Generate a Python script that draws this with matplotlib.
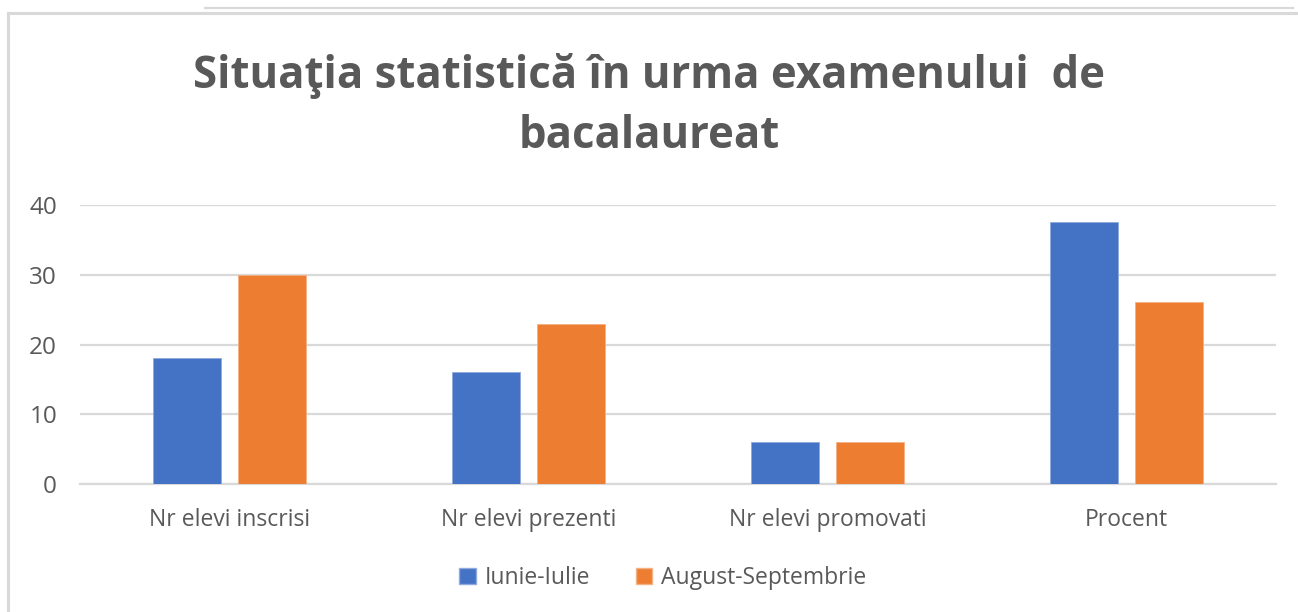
import numpy as np
import matplotlib
matplotlib.use("Agg")
import matplotlib.pyplot as plt
from matplotlib.lines import Line2D
from matplotlib.patches import Patch

# Data
categories = ["Nr elevi inscrisi", "Nr elevi prezenti", "Nr elevi promovati", "Procent"]
iunie_iulie = [18, 16, 6, 37.5]
august_septembrie = [30, 23, 6, 26.1]
series_names = ["Iunie-Iulie", "August-Septembrie"]
yticks = [0, 10, 20, 30, 40]

BLUE = "#4472c4"
ORANGE = "#ed7d31"
TEXT = "#595959"
GRID = "#d9d9d9"

plt.rcParams["font.family"] = ["Open Sans", "DejaVu Sans"]

W, H = 1298, 612
fig = plt.figure(figsize=(W / 100, H / 100), dpi=100)
ax = fig.add_axes([80 / W, 1 - 484 / H, 1196 / W, (484 - 205) / H])

x = np.arange(len(categories))
bw = 0.227
ax.bar(x - 0.143, iunie_iulie, bw, color=BLUE, edgecolor="#8faadc", linewidth=0.6, zorder=3)
ax.bar(x + 0.143, august_septembrie, bw, color=ORANGE, edgecolor="#f4b183", linewidth=0.6, zorder=3)

ax.set_xlim(-0.5, len(categories) - 0.5)
ax.set_ylim(0, 40)
ax.set_yticks(yticks)
ax.set_xticks(x)
ax.set_xticklabels(categories)
ax.yaxis.grid(True, color=GRID, linewidth=1.6, zorder=0)
ax.set_axisbelow(True)
for s in ax.spines.values():
    s.set_visible(False)
ax.tick_params(axis="both", length=0, colors=TEXT)
ax.tick_params(axis="y", pad=16.5, labelsize=17.5)
ax.tick_params(axis="x", pad=17, labelsize=16.5)
ax.axhline(0, color=GRID, linewidth=1.6, zorder=1, clip_on=False)

fig.text(0.5, 1 - 106 / H, "Situaţia statistică în urma examenului  de\nbacalaureat",
         ha="center", va="center", fontsize=31.5, fontweight="bold", color=TEXT,
         linespacing=1.45)

handles = [Patch(facecolor=BLUE, edgecolor="#8faadc"), Patch(facecolor=ORANGE, edgecolor="#f4b183")]
fig.legend(handles, series_names, loc="center", bbox_to_anchor=(663 / W, 1 - 578 / H),
           ncol=2, frameon=False, fontsize=16.5, labelcolor=TEXT,
           handlelength=0.7, handleheight=0.7, handletextpad=0.4, columnspacing=2.0)

# chart border lines
fig.add_artist(Line2D([8 / W, 8 / W], [0, 1 - 13 / H], color=GRID, linewidth=2.2))
fig.add_artist(Line2D([8 / W, 1], [1 - 13 / H, 1 - 13 / H], color=GRID, linewidth=2.2))
fig.add_artist(Line2D([205 / W, 1293 / W], [1 - 8 / H, 1 - 8 / H], color=GRID, linewidth=1.6))

fig.savefig("out.png", dpi=100)
